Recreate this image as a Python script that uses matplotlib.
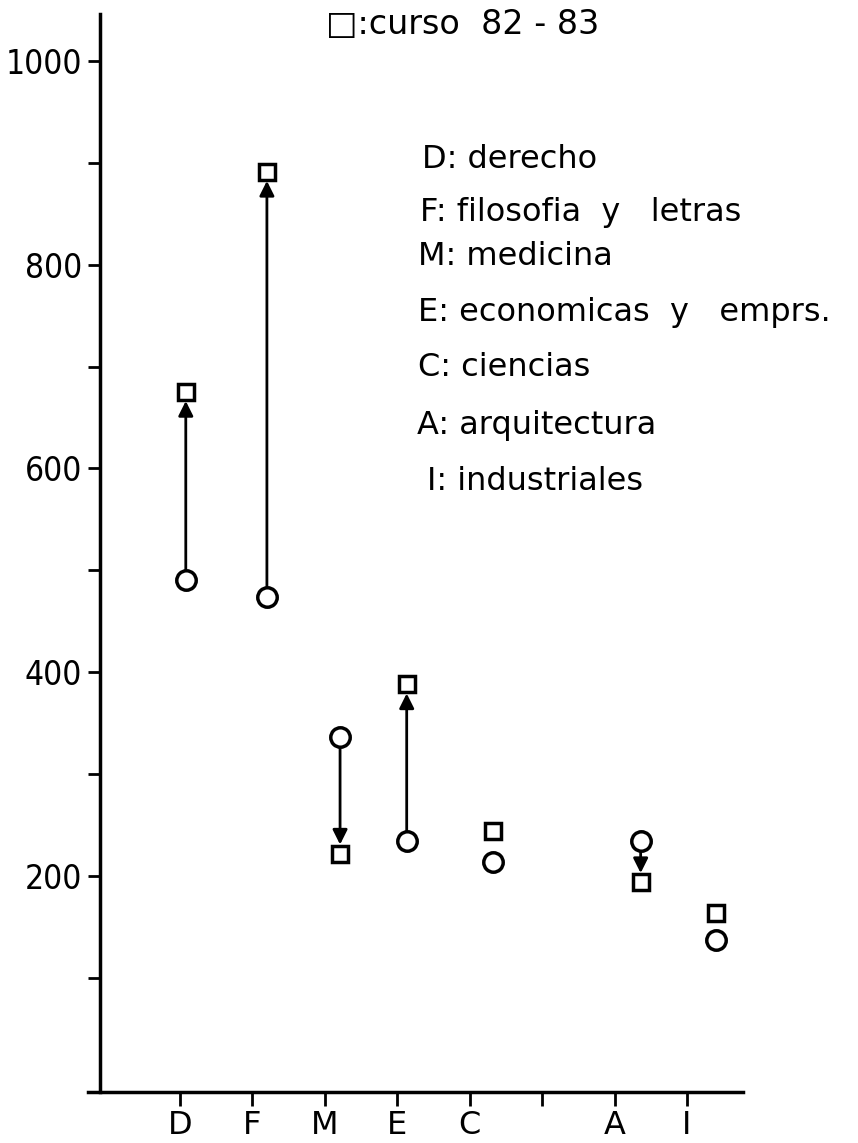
import matplotlib
matplotlib.use("Agg")
import matplotlib.pyplot as plt

# facultades (eje x) y valores
tick_labels = ["D", "F", "M", "E", "C", "", "A", "I"]
tick_pos = [0, 1, 2, 3, 4, 5, 6, 7]
# posicion horizontal de cada par de marcas (dibujadas a mano, algo desplazadas)
point_x = [0.08, 1.20, 2.21, 3.13, 4.32, 6.36, 7.40]
circle_vals = [490, 474, 336, 234, 214, 234, 137]   # o: curso anterior
square_vals = [675, 891, 222, 388, 244, 194, 164]   # □: curso 82-83
has_arrow = [True, True, True, True, False, True, False]

legend_lines = [
    "D: derecho",
    "F: filosofia  y   letras",
    "M: medicina",
    "E: economicas  y   emprs.",
    "C: ciencias",
    "A: arquitectura",
    "I: industriales",
]

plt.rcParams["font.family"] = ["DejaVu Sans"]

fig = plt.figure(figsize=(8.58, 11.43), dpi=100)
# el eje x empieza un poco a la izquierda del eje y
ax = fig.add_axes([88 / 858, 0.0446, 655 / 858, 0.9432])

ax.set_xlim(-1.270, 7.773)
ax.set_ylim(-12, 1046)

for sp in ["top", "right"]:
    ax.spines[sp].set_visible(False)
ax.spines["left"].set_position(("axes", 12 / 655))
ax.spines["left"].set_linewidth(2.5)
ax.spines["bottom"].set_linewidth(2.5)

ax.set_yticks([200, 400, 600, 800, 1000])
ax.set_yticks([100, 300, 500, 700, 900], minor=True)
ax.tick_params(axis="y", which="both", direction="out", length=9, width=2,
               labelsize=24, pad=4)
ax.set_xticks(tick_pos)
ax.set_xticklabels(tick_labels)
ax.tick_params(axis="x", direction="out", length=10, width=2,
               labelsize=23, pad=3)
for lab in ax.get_yticklabels():
    lab.set_fontstretch("condensed")

# flechas del circulo al cuadrado
for x, c, s, a in zip(point_x, circle_vals, square_vals, has_arrow):
    if a:
        ax.annotate("", xy=(x, s), xytext=(x, c),
                    arrowprops=dict(arrowstyle="-|>", color="black", lw=2,
                                    mutation_scale=22, shrinkA=7.5, shrinkB=6.5))

ax.plot(point_x, circle_vals, linestyle="none", marker="o", markersize=14,
        markerfacecolor="white", markeredgecolor="black", markeredgewidth=2.5,
        zorder=3)
ax.plot(point_x, square_vals, linestyle="none", marker="s", markersize=11,
        markerfacecolor="white", markeredgecolor="black", markeredgewidth=2.5,
        zorder=3)

# leyenda superior y lista de facultades
fig.text(326 / 858, 1 - 25 / 1143, "\u25a1:curso  82 - 83", fontsize=24,
         va="center", ha="left")
legend_y = [159, 212, 257, 313, 367, 425, 482]
legend_x = [422, 420, 418, 418, 418, 417, 427]
for txt, lx, ly in zip(legend_lines, legend_x, legend_y):
    fig.text(lx / 858, 1 - ly / 1143, txt, fontsize=23, va="center", ha="left")

fig.savefig("out.png", dpi=100)
